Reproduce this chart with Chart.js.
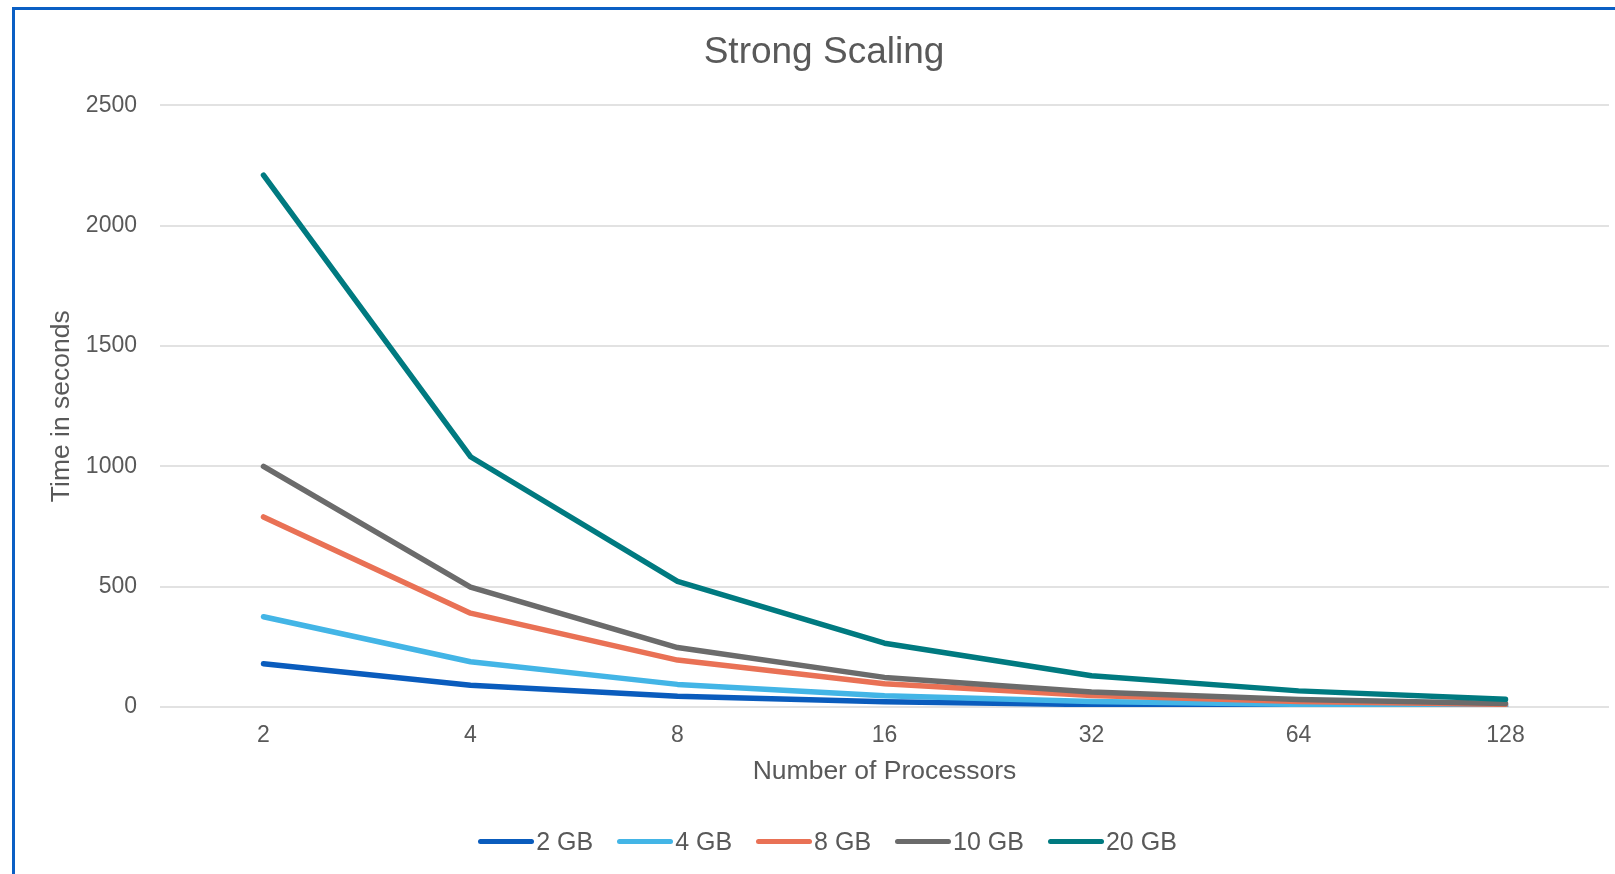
<!DOCTYPE html>
<html>
<head>
<meta charset="utf-8">
<title>Strong Scaling</title>
<script src="https://cdn.jsdelivr.net/npm/chart.js@4"></script>
<style>
  html, body { margin: 0; padding: 0; background: #fff; }
  #wrap { position: relative; width: 1615px; height: 874px; }
  #frame {
    position: absolute; left: 12px; top: 7px; right: 0; bottom: 0;
    border-left: 3px solid #0a5fc4; border-top: 3px solid #0a5fc4;
    pointer-events: none;
  }
  canvas { position: absolute; left: 0; top: 0; }
  #legend {
    position: absolute; left: 40px; right: 0; top: 826px; height: 30px;
    display: flex; justify-content: center; align-items: center;
    font-family: 'Liberation Sans', Arial, sans-serif; font-size: 25px; color: #595959;
  }
  .item { display: flex; align-items: center; margin: 0 12px; }
  .swatch { width: 56px; height: 5px; border-radius: 3px; margin-right: 2px; }
</style>
</head>
<body>
<div id="wrap">
  <canvas id="scalingChart" width="1615" height="874"></canvas>
  <div id="legend"></div>
  <div id="frame"></div>
</div>
<script>
// processors on the x axis
const processors = ["2", "4", "8", "16", "32", "64", "128"];

// time in seconds per data size
const gb2 = [180, 90, 45, 22, 10, 5, 3];
const gb4 = [375, 188, 94, 47, 23, 11, 6];
const gb8 = [790, 390, 195, 97, 48, 23, 11];
const gb10 = [1000, 498, 247, 123, 62, 31, 15];
const gb20 = [2210, 1040, 522, 265, 130, 67, 32];

const yTicks = [0, 500, 1000, 1500, 2000, 2500];

const FONT = "'Liberation Sans', Arial, sans-serif";
const TEXT = "#595959";

function line(label, data, color, order) {
  return {
    label: label,
    data: data,
    borderColor: color,
    backgroundColor: color,
    borderWidth: 5.5,
    borderCapStyle: "round",
    borderJoinStyle: "round",
    pointRadius: 0,
    tension: 0,
    fill: false,
    order: order
  };
}

const ctx = document.getElementById("scalingChart").getContext("2d");

const chart = new Chart(ctx, {
  type: "line",
  data: {
    labels: processors,
    datasets: [
      line("2 GB", gb2, "#0a5cbd", 5),
      line("4 GB", gb4, "#43b5e6", 4),
      line("8 GB", gb8, "#e97155", 3),
      line("10 GB", gb10, "#6b6b6b", 2),
      line("20 GB", gb20, "#007a80", 1)
    ]
  },
  options: {
    responsive: false,
    animation: false,
    layout: { padding: { top: 31, left: 39, right: 6, bottom: 77 } },
    plugins: {
      title: {
        display: true,
        text: "Strong Scaling",
        color: TEXT,
        font: { family: FONT, size: 37, weight: "normal", lineHeight: 1.2 },
        padding: { top: 0, bottom: 30 }
      },
      legend: { display: false },
      tooltip: { enabled: false }
    },
    scales: {
      x: {
        offset: true,
        grid: { display: false, drawTicks: false },
        border: { display: false },
        ticks: { color: TEXT, font: { family: FONT, size: 23 }, padding: 15 },
        title: {
          display: true,
          text: "Number of Processors",
          color: TEXT,
          font: { family: FONT, size: 26.5 },
          padding: { top: 4, bottom: 9 }
        },
        afterFit: (scale) => { scale.height = 90; }
      },
      y: {
        min: 0,
        max: 2500,
        afterBuildTicks: (scale) => { scale.ticks = yTicks.map(v => ({ value: v })); },
        grid: { color: "#e2e2e2", lineWidth: 2, drawTicks: false },
        border: { display: false },
        ticks: {
          color: TEXT,
          font: { family: FONT, size: 23 },
          padding: 23,
          callback: (v) => String(v)
        },
        title: {
          display: true,
          text: "Time in seconds",
          color: TEXT,
          font: { family: FONT, size: 26.5 },
          padding: { top: 7, bottom: 0 }
        },
        afterFit: (scale) => { scale.width = 121; }
      }
    }
  }
});

// legend: line swatch + label, in dataset order
const legendDiv = document.getElementById("legend");
chart.data.datasets.forEach(ds => {
  const item = document.createElement("div");
  item.className = "item";
  item.innerHTML = `<span class="swatch" style="background:${ds.borderColor}"></span><span>${ds.label}</span>`;
  legendDiv.appendChild(item);
});
</script>
</body>
</html>
